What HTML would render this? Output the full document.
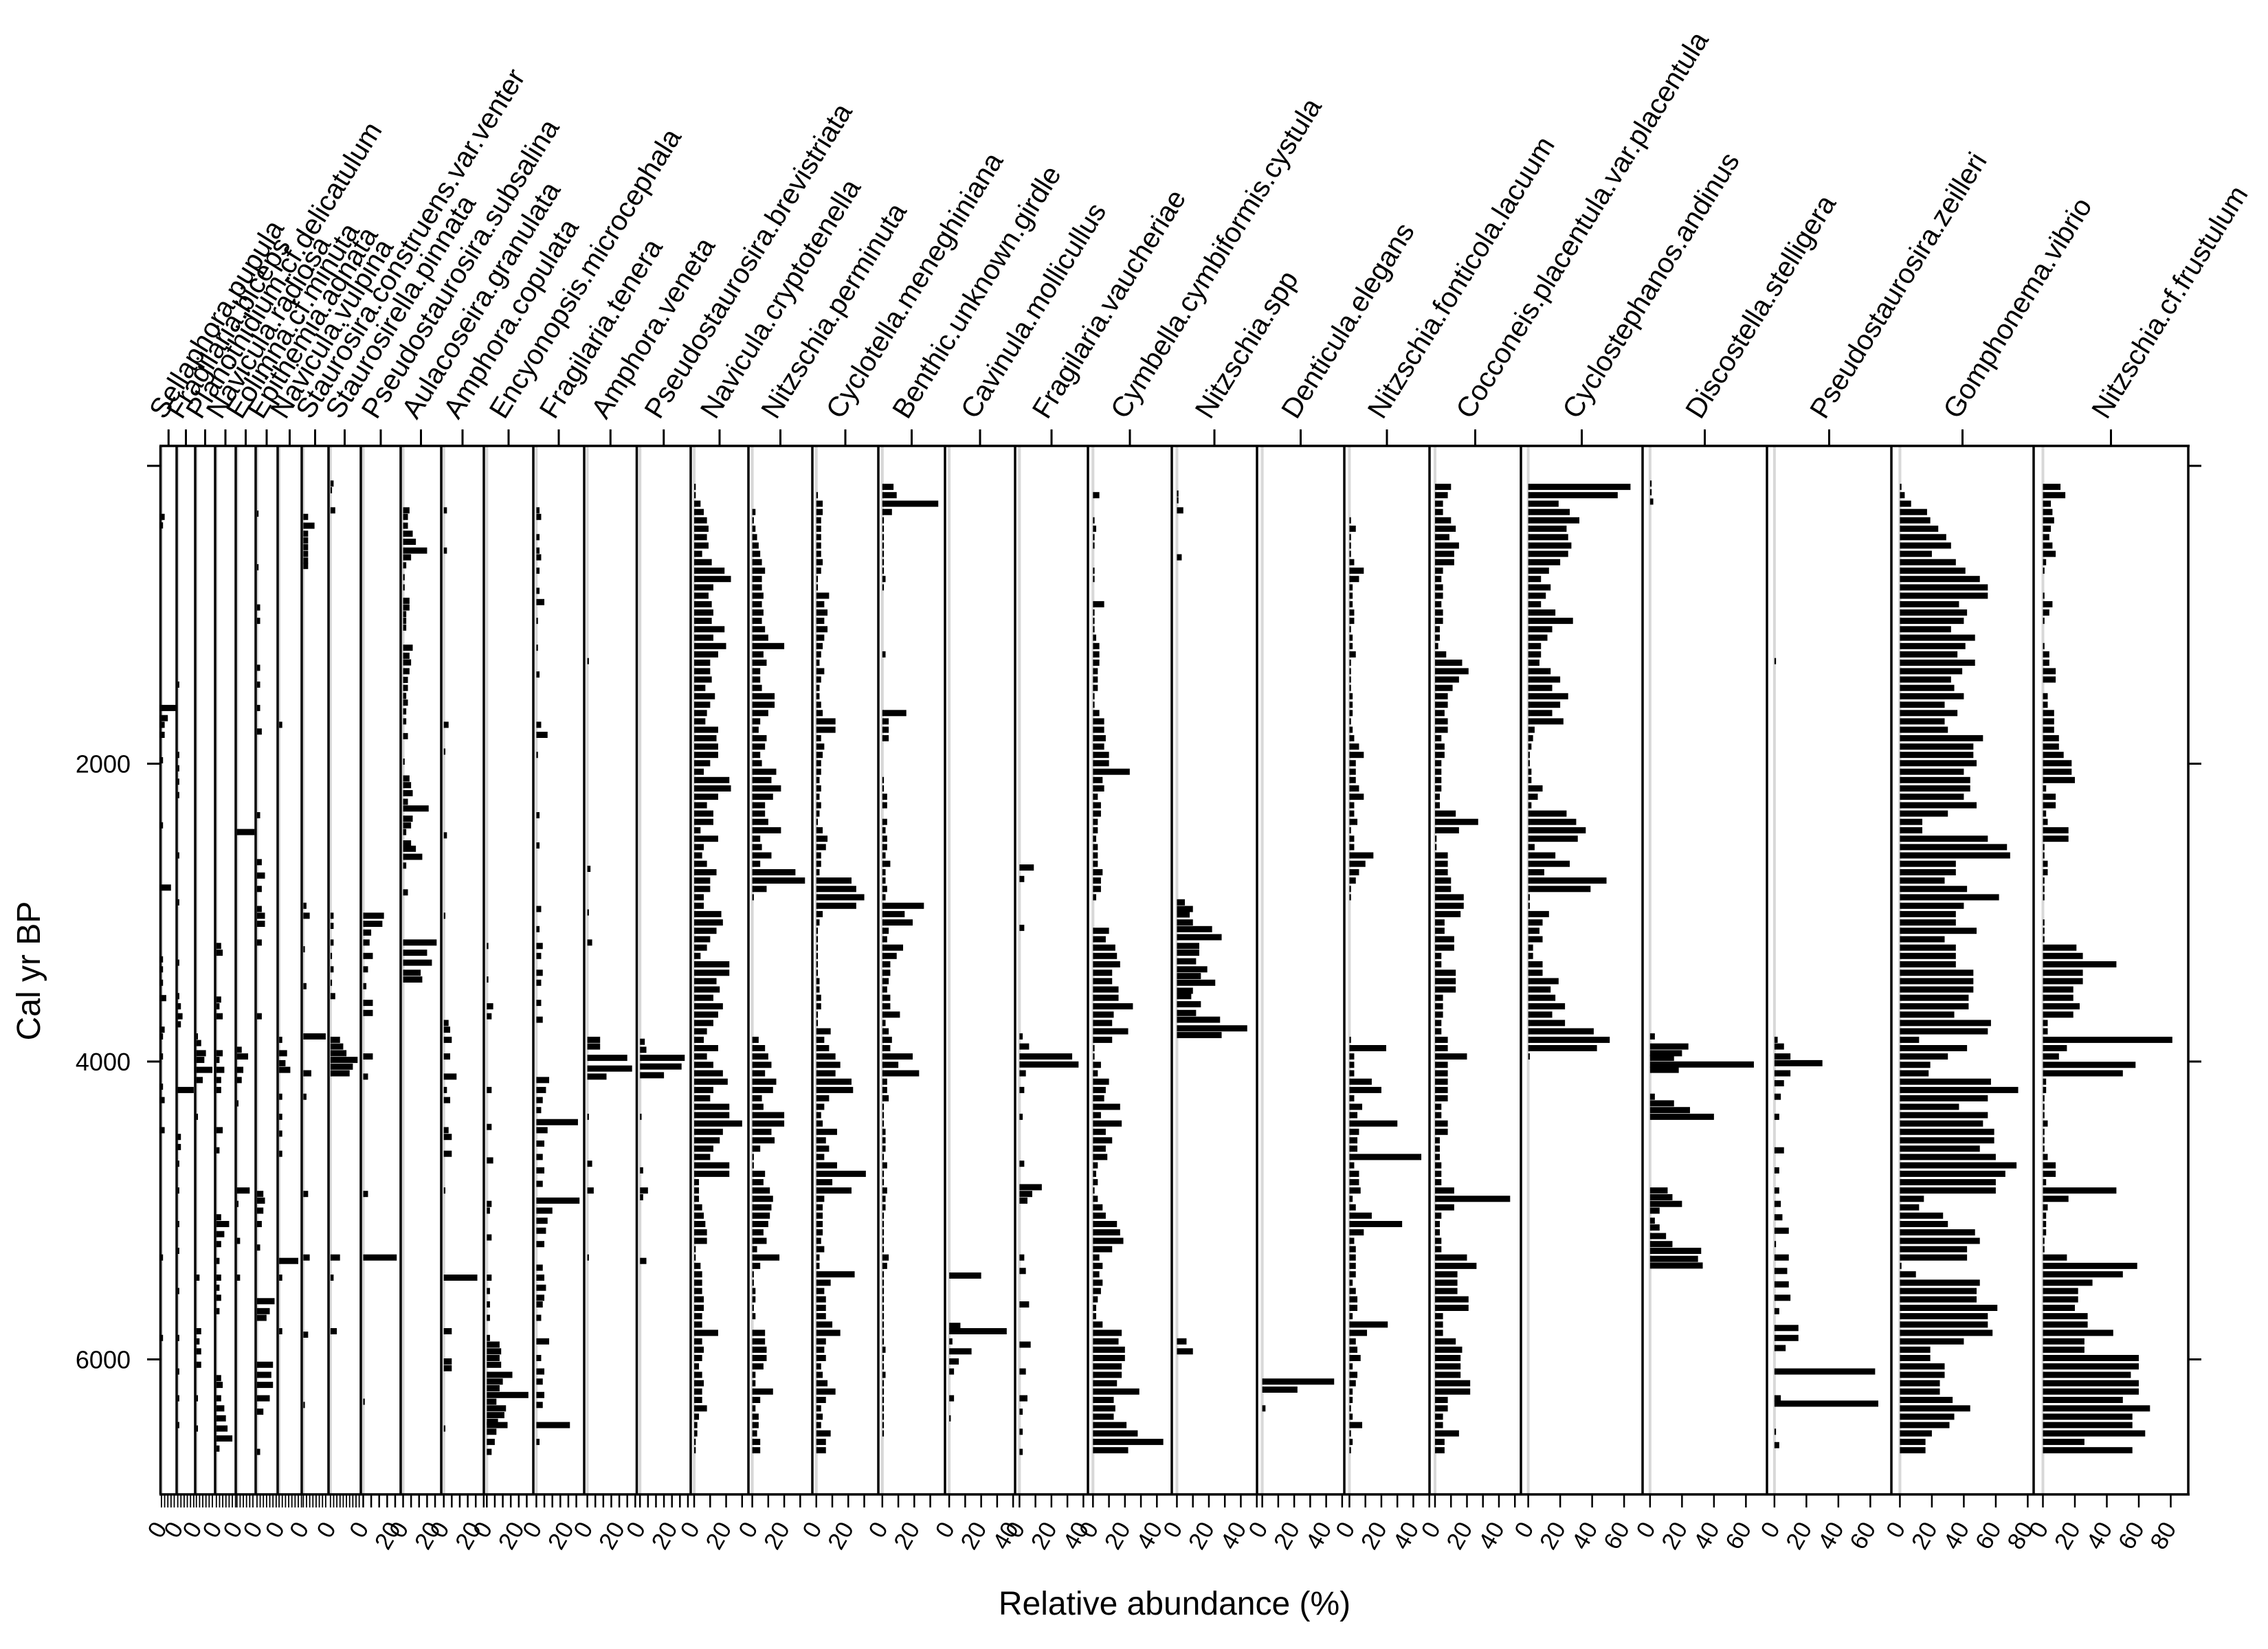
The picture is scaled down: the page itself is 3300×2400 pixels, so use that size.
<!DOCTYPE html>
<html><head><meta charset="utf-8"><style>
html,body{margin:0;padding:0;background:#fff;}
svg{display:block;font-family:"Liberation Sans",Arial,sans-serif;}
</style></head><body>
<svg id="chart" xmlns="http://www.w3.org/2000/svg" width="3300" height="2400" viewBox="0 0 3300 2400">
<rect x="0" y="0" width="3300" height="2400" fill="#fff"/>
<text x="1709" y="2350" font-size="48" text-anchor="middle">Relative abundance (%)</text>
<text transform="translate(58,1413) rotate(-90)" font-size="48" text-anchor="middle">Cal yr BP</text>
<g id="layers"></g>
</svg>
<script>
// ---------- data ----------
const taxa = ["Sellaphora.pupula","Fragilaria.biceps","Planothidium.cf.delicatulum","Navicula.radiosa","Eolimna.cf.minuta","Epithemia.adnata","Navicula.vulpina","Staurosira.construens.var.venter","Staurosirella.pinnata","Pseudostaurosira.subsalina","Aulacoseira.granulata","Amphora.copulata","Encyonopsis.microcephala","Fragilaria.tenera","Amphora.veneta","Pseudostaurosira.brevistriata","Navicula.cryptotenella","Nitzschia.perminuta","Cyclotella.meneghiniana","Benthic.unknown.girdle","Cavinula.mollicullus","Fragilaria.vaucheriae","Cymbella.cymbiformis.cystula","Nitzschia.spp","Denticula.elegans","Nitzschia.fonticola.lacuum","Cocconeis.placentula.var.placentula","Cyclostephanos.andinus","Discostella.stelligera","Pseudostaurosira.zeilleri","Gomphonema.vibrio","Nitzschia.cf.frustulum"];
const ageTicks = [0,2000,4000,6000];
const ageTickLabels = ["","2000","4000","6000"];
const gridAges = [141,197,254,310,366,422,479,535,591,647,704,760,816,872,929,985,1041,1097,1154,1210,1266,1322,1379,1435,1491,1547,1604,1660,1716,1772,1829,1885,1941,1997,2054,2110,2166,2222,2279,2335,2391,2447,2504,2560,2616,2672,2729,2785,2841,2897,2954,3010,3066,3122,3179,3235,3291,3347,3404,3460,3516,3572,3629,3685,3741,3797,3854,3910,3966,4022,4079,4135,4191,4247,4304,4360,4416,4472,4529,4585,4641,4697,4754,4810,4866,4922,4979,5035,5091,5147,5204,5260,5316,5372,5429,5485,5541,5597,5654,5710,5766,5822,5879,5935,5991,6047,6104,6160,6216,6272,6329,6385,6441,6497,6554,6610];

const p_sellaphora = [[343,2],[400,1],[1626,9],[1694,4],[1739,2],[1806,2],[1977,1],[2414,1],[2832,6],[3314,1],[3381,1],[3471,1],[3574,3],[3786,2],[3831,1],[3966,1],[4169,1],[4259,2],[4461,2],[5316,1],[5856,1]];
const p_fragbiceps = [[1469,1],[1941,1],[2031,1],[2121,1],[2211,1],[2616,1],[2931,1],[3336,1],[3561,1],[3629,2],[3696,3],[3750,2],[4191,10],[4506,2],[4574,2],[4686,1],[4866,1],[5091,1],[5271,1],[5541,1],[5856,1],[6081,1],[6261,1],[6441,1]];
const p_planothidium = [[3831,1],[3876,3],[3944,6],[3989,5],[4056,10],[4124,4],[4371,1],[5451,2],[5811,3],[5879,2],[5946,3],[6036,3],[6261,1],[6464,1]];
const p_navradiosa = [[3224,3],[3269,4],[3584,3],[3629,2],[3696,4],[3944,4],[3989,2],[4056,5],[4124,3],[4191,3],[4461,4],[4596,2],[5046,3],[5091,8],[5159,5],[5226,3],[5339,2],[5451,3],[5519,2],[5586,3],[5676,2],[6126,3],[6171,4],[6261,3],[6329,5],[6396,6],[6464,7],[6531,10],[6599,2]];
const p_eolimna = [[2459,11],[3921,3],[3966,7],[4056,4],[4124,3],[4281,1],[4866,8],[4956,1],[5204,2],[5451,2]];
const p_epithemia = [[321,1],[681,1],[951,2],[1041,2],[1356,2],[1469,2],[1626,2],[1784,3],[2346,2],[2661,3],[2751,5],[2841,3],[2976,3],[3021,5],[3075,5],[3201,3],[3696,3],[4889,4],[4934,5],[5001,4],[5091,3],[5249,2],[5609,11],[5676,8],[5721,6],[6036,10],[6104,9],[6171,10],[6261,8],[6351,4],[6621,2]];
const p_navvulpina = [[1739,2],[3854,2],[3944,5],[4011,4],[4056,7],[4236,2],[4371,2],[4484,2],[4619,2],[5339,12],[5451,2],[5811,2]];
const p_staurosira = [[343,3],[402,7],[456,3],[501,3],[546,3],[591,3],[636,3],[672,3],[2954,2],[3021,4],[3246,1],[3494,2],[3831,14],[4079,5],[4236,2],[4889,3],[5316,4],[5834,3],[6306,1]];
const p_staurosirella = [[119,2],[164,1],[299,3],[3021,2],[3089,2],[3201,2],[3291,1],[3381,2],[3471,1],[3561,3],[3854,6],[3899,8],[3944,10],[3989,17],[4034,14],[4079,12],[5316,6],[5451,2],[5811,4]];
const p_pssubsalina = [[3021,13],[3075,12],[3134,5],[3201,4],[3291,6],[3381,3],[3494,2],[3606,6],[3674,6],[3966,6],[4101,3],[4889,3],[5316,21],[6284,1]];
const p_aulacoseira = [[299,4],[343,3],[402,3],[456,6],[510,8],[569,15],[614,5],[668,2],[748,1],[816,1],[906,4],[951,4],[996,2],[1041,2],[1086,2],[1221,6],[1275,4],[1320,5],[1379,4],[1437,3],[1491,3],[1545,2],[1590,3],[1649,2],[1716,2],[1815,3],[1986,1],[2099,4],[2144,5],[2198,6],[2256,3],[2301,16],[2369,6],[2414,5],[2459,2],[2535,5],[2571,8],[2625,12],[2684,2],[2864,3],[3201,21],[3269,15],[3336,18],[3404,11],[3449,12]];
const p_amphcopulata = [[299,2],[569,2],[1739,3],[1919,1],[2481,2],[3021,1],[3741,3],[3786,4],[3854,5],[3966,4],[4101,8],[4191,2],[4259,4],[4461,3],[4506,5],[4619,5],[4866,1],[5451,21],[5811,5],[6014,5],[6059,5],[6464,1]];
const p_encyonopsis = [[3224,1],[3449,1],[3629,4],[3696,3],[4191,3],[4439,3],[4664,4],[4956,3],[5001,2],[5181,3],[5451,3],[5541,2],[5631,2],[5721,2],[5856,2],[5901,8],[5946,9],[5991,8],[6036,9],[6104,16],[6149,10],[6194,8],[6239,26],[6284,6],[6329,12],[6374,11],[6419,7],[6441,13],[6486,6],[6554,5],[6621,3]];
const p_fragtenera = [[299,2],[343,3],[479,2],[569,2],[614,3],[704,2],[839,2],[915,5],[1041,1],[1221,1],[1401,2],[1739,3],[1806,7],[1941,1],[2346,2],[2549,2],[2976,3],[3111,2],[3224,4],[3291,3],[3404,4],[3471,3],[3606,3],[3719,4],[4124,8],[4191,6],[4259,4],[4326,3],[4407,26],[4461,7],[4551,5],[4641,4],[4731,5],[4821,4],[4934,27],[5001,10],[5069,7],[5136,6],[5226,5],[5384,4],[5451,5],[5519,6],[5586,5],[5631,4],[5721,3],[5879,8],[5991,3],[6081,5],[6149,4],[6239,5],[6306,4],[6441,21],[6554,2]];
const p_amphveneta = [[1311,1],[2706,2],[2999,1],[3201,3],[3854,8],[3899,8],[3975,25],[4047,28],[4101,12],[4371,1],[4686,3],[4866,4],[5316,1]];
const p_psbrevistriata = [[3867,3],[3921,4],[3975,28],[4033,26],[4092,15],[4371,1],[4731,2],[4866,5],[4911,2],[5339,4]];
const g_navcrypto = [1,1,4,6,8,9,8,9,5,11, 19,23,12,9,11,12,11,19,12,20, 15,10,10,11,7,13,10,8,7,15, 14,15,15,10,6,22,23,15,8,12, 12,4,15,6,5,8,14,10,10,6, 6,17,18,14,10,8,4,22,22,14, 16,12,18,15,12,8,6,15,8,12, 18,21,12,10,22,22,30,18,16,12, 10,22,22,3,3,3,5,6,7,8, 8,1,1,4,5,5,5,6,6,5, 5,15,5,6,5,3,5,6,5,5, 8,3,2,2,1,1];
const g_nitzperminuta = [0,0,0,2,1,2,3,4,5,6, 8,6,6,7,6,7,6,8,10,20, 7,9,5,5,6,14,14,10,5,4, 9,8,5,6,15,12,18,13,8,8, 10,18,5,6,12,5,27,33,9,1, 0,0,0,0,0,0,0,0,0,0, 0,0,0,0,0,0,4,8,10,12, 8,15,13,6,7,20,20,12,14,5, 1,1,8,7,11,13,12,11,10,7, 9,3,17,5,1,1,2,2,1,2, 0,8,8,9,9,7,2,2,13,5, 2,4,4,3,5,5];
const g_cyclotella = [0,1,4,4,3,3,3,3,3,4, 3,1,1,8,5,7,5,7,5,4, 3,2,5,3,2,2,3,4,12,12, 3,5,4,3,3,2,3,2,3,2, 1,4,7,6,3,3,2,22,25,30, 25,4,2,1,1,1,1,1,1,2, 2,3,3,1,1,9,5,8,12,15, 12,22,23,8,5,3,4,13,6,8, 5,13,31,10,22,5,4,4,4,4, 3,5,2,2,24,9,5,6,6,6, 10,15,6,5,6,3,4,7,12,6, 3,4,3,9,6,6];
const g_benthic = [7,9,35,6,1,1,1,1,1,1, 1,2,1,0,0,0,0,0,0,0, 2,0,0,0,0,0,0,15,4,4, 4,0,0,0,0,1,1,3,3,0, 3,2,3,3,2,5,2,2,3,2, 26,14,19,4,3,13,9,5,5,4, 3,5,5,11,2,4,6,5,19,10, 23,3,3,4,1,1,1,2,2,2, 1,3,1,1,3,2,2,1,1,1, 1,1,4,3,1,1,1,1,1,1, 1,1,1,2,1,1,2,1,1,1, 1,1,1,1,0,0];
const p_cavinula = [[5437,20],[5775,7],[5811,36],[5879,2],[5946,14],[6014,6],[6081,3],[6261,3],[6396,1]];
const p_fragvaucheriae = [[2697,9],[2774,3],[3102,3],[3831,2],[3899,6],[3966,33],[4020,37],[4079,4],[4191,3],[4371,2],[4686,3],[4844,14],[4889,8],[4934,5],[5316,3],[5406,4],[5631,6],[5901,7],[6081,4],[6261,5],[6351,2],[6486,2],[6621,2]];
const g_cymbella = [0,4,0,0,1,2,1,1,0,0, 1,1,0,0,7,1,1,1,2,4, 4,4,3,3,3,1,1,4,7,7, 8,7,10,10,23,6,7,3,5,5, 3,3,2,3,3,3,6,5,5,2, 0,0,0,10,8,14,15,17,12,12, 16,16,25,13,12,22,12,1,1,5, 3,10,8,7,17,5,18,8,12,8, 9,3,2,3,1,3,6,8,15,17, 19,12,4,6,4,6,5,3,2,2, 6,18,16,20,20,18,18,15,29,13, 14,13,21,28,44,22];
const p_nitzspp = [[186,1],[231,1],[299,4],[614,3],[2931,5],[2976,10],[3012,8],[3066,10],[3111,22],[3165,28],[3224,14],[3269,14],[3327,12],[3381,19],[3426,15],[3471,24],[3525,10],[3561,9],[3615,15],[3674,12],[3719,27],[3777,44],[3822,28],[5879,6],[5946,10]];
const p_denticula = [[6149,45],[6203,22],[6329,2]];
const g_nitzfonticola = [0,0,0,0,1,4,1,1,1,3, 9,6,2,2,2,3,3,1,2,2, 4,1,1,1,1,2,2,2,1,2, 3,6,9,4,4,4,6,9,3,3, 5,1,3,3,15,10,6,4,1,1, 0,0,0,0,0,0,0,0,0,0, 0,0,0,0,0,0,1,23,3,3, 3,14,20,3,8,5,30,6,5,5, 45,3,6,6,7,2,4,14,33,9, 3,4,4,4,4,2,4,5,5,2, 24,11,4,5,7,2,5,4,2,2, 1,2,8,1,2,1];
const g_cocconeis = [10,8,5,5,10,13,9,15,12,12, 5,4,5,5,4,5,5,3,3,2, 7,17,21,15,11,8,8,6,8,8, 4,6,6,4,4,4,4,3,3,13, 27,15,1,1,8,8,8,10,10,18, 18,16,6,6,12,12,4,4,13,13, 13,5,5,5,4,4,8,8,20,8, 8,8,8,8,4,4,8,8,3,3, 3,4,4,4,12,47,12,4,3,3, 4,4,20,26,14,14,14,21,21,5, 5,5,13,17,16,16,16,22,22,8, 8,5,5,15,6,6];
const g_cyclostephanos = [64,56,19,26,32,24,25,27,25,20, 13,8,14,11,8,17,28,15,12,8, 8,7,14,20,15,25,20,15,22,4, 3,2,1,1,2,2,9,6,2,24, 30,36,31,4,17,26,10,49,39,1, 1,13,9,7,9,3,3,9,9,19, 14,17,23,15,23,41,51,43,1,0, 0,0,0,0,0,0,0,0,0,0, 0,0,0,0,0,0,0,0,0,0, 0,0,0,0,0,0,0,0,0,0, 0,0,0,0,0,0,0,0,0,0, 0,0,0,0,0,0];
const p_discostella = [[119,1],[177,1],[240,2],[3831,3],[3899,24],[3944,20],[3975,15],[4020,65],[4056,18],[4236,3],[4281,15],[4326,25],[4371,40],[4866,11],[4911,14],[4956,20],[5001,6],[5069,3],[5114,6],[5172,10],[5226,14],[5271,32],[5325,30],[5370,33]];
const p_pszeilleri = [[1311,1],[3854,2],[3899,6],[3966,10],[4011,30],[4079,10],[4146,6],[4236,4],[4371,3],[4596,6],[4731,3],[4866,3],[4956,4],[5046,5],[5136,9],[5226,1],[5316,9],[5406,8],[5496,9],[5586,10],[5676,3],[5789,15],[5856,15],[5924,7],[6081,63],[6261,4],[6297,65],[6486,1],[6576,3]];
const g_gomphonema = [1,3,7,17,19,24,29,32,20,35, 41,50,55,55,37,42,40,32,47,41, 36,47,39,32,34,40,28,36,28,30, 52,46,46,48,40,44,44,40,48,30, 14,14,55,67,69,35,35,28,42,62, 40,35,35,48,28,35,35,35,46,46, 46,43,43,34,57,55,12,42,30,19, 18,57,74,55,37,55,52,59,59,50, 60,73,66,60,60,15,12,27,30,47, 50,42,42,1,10,50,48,48,61,55, 55,58,40,19,19,28,28,25,25,33, 44,34,31,20,16,16];
const g_nitzfrustulum = [11,14,5,6,7,5,4,6,8,2, 1,0,0,1,6,4,1,0,0,1, 4,4,8,8,0,3,3,7,7,7, 10,10,13,18,18,20,2,8,8,2, 3,16,16,1,1,3,3,1,1,1, 0,0,1,1,1,21,25,46,25,25, 19,19,23,19,3,3,81,15,10,58, 50,2,2,1,1,1,3,1,1,1, 3,8,8,2,46,16,3,2,2,2, 1,1,15,59,50,31,22,22,20,28, 28,44,26,26,60,60,55,60,60,50, 67,56,56,64,26,56];

// ---------- layout ----------
const borders = [233.5,257,284,313,343,372,404,439,478,525,583,642,704,776,850,926.5,1005,1089,1182,1278,1375,1477,1583,1705,1829,1956,2080,2213,2390,2571,2752,2959,3184];
const TOP = 649, BOT = 2175, PX_PER_PCT = 2.325;
function yAge(a){ return 678 + a*0.21675; }
function fromGrid(vals){ const out=[]; for(let i=0;i<vals.length && i<gridAges.length;i++){ out.push([gridAges[i], vals[i]]); } return out; }
const series = [p_sellaphora,p_fragbiceps,p_planothidium,p_navradiosa,p_eolimna,p_epithemia,p_navvulpina,p_staurosira,p_staurosirella,p_pssubsalina,p_aulacoseira,p_amphcopulata,p_encyonopsis,p_fragtenera,p_amphveneta,p_psbrevistriata,fromGrid(g_navcrypto),fromGrid(g_nitzperminuta),fromGrid(g_cyclotella),fromGrid(g_benthic),p_cavinula,p_fragvaucheriae,fromGrid(g_cymbella),p_nitzspp,p_denticula,fromGrid(g_nitzfonticola),fromGrid(g_cocconeis),fromGrid(g_cyclostephanos),p_discostella,p_pszeilleri,fromGrid(g_gomphonema),fromGrid(g_nitzfrustulum)];

const NS="http://www.w3.org/2000/svg";
const root=document.getElementById('layers');
function mk(tag, attrs){ const e=document.createElementNS(NS,tag); for(const k in attrs) e.setAttribute(k, attrs[k]); return e; }
function slug(s){ return s.toLowerCase().replace(/[^a-z0-9]+/g,'-').replace(/-+$/,''); }

const grayG = mk('g',{});   root.appendChild(grayG);
const barsG = mk('g',{});   root.appendChild(barsG);
const axG = mk('g',{});   root.appendChild(axG);

for(let p=0;p<taxa.length;p++){
  const L=borders[p], R=borders[p+1], w=R-L;
  const zero = L + 0.06*w;
  const xv = v => zero + v*PX_PER_PCT;
  const zl = mk('line',{x1:zero,x2:zero,y1:TOP,y2:BOT,stroke:'#d8d8d8','stroke-width':4});
  
  
  grayG.appendChild(zl);
  const g = mk('g',{fill:'#000'});
  
  
  barsG.appendChild(g);
  for(const [a,v] of series[p]){
    if(!(v>0)) continue;
    const r = mk('rect',{x:zero, y:(yAge(a)-4.5).toFixed(1), width:Math.max(0.8,xv(v)-zero).toFixed(1), height:9});
    
    
    g.appendChild(r);
  }
  const bl = mk('line',{x1:L,x2:L,y1:TOP,y2:BOT,stroke:'#000','stroke-width':3.5});
  
  
  axG.appendChild(bl);
  const cx=(L+R)/2;
  const tt = mk('line',{x1:cx,x2:cx,y1:625,y2:TOP,stroke:'#000','stroke-width':3});
  
  
  axG.appendChild(tt);
  const lab = mk('text',{transform:`translate(${cx-6},612) rotate(-58)`,'font-size':41});
  lab.textContent = taxa[p];
  
  
  axG.appendChild(lab);
  const maxV = (R - zero)/PX_PER_PCT;
  const step = w<50 ? 2 : (w<80 ? 5 : (w<140 ? 10 : 20));
  for(let t=0;t<=maxV;t+=step){
    const bt = mk('line',{x1:xv(t),x2:xv(t),y1:BOT,y2:BOT+19,stroke:'#000','stroke-width':w<50?1.8:2.5});
    
    
    axG.appendChild(bt);
  }
  for(let t=0;t<=maxV;t+=20){
    const tl = mk('text',{transform:`translate(${xv(t)+9},2224) rotate(-60)`,'font-size':35,'text-anchor':'end'});
    tl.textContent = String(t);
    
    
    axG.appendChild(tl);
  }
}
const rb = mk('line',{x1:3184,x2:3184,y1:TOP,y2:BOT,stroke:'#000','stroke-width':3.5});


axG.appendChild(rb);
const tl = mk('line',{x1:232,x2:3186,y1:TOP,y2:TOP,stroke:'#000','stroke-width':3.5});


axG.appendChild(tl);
const bl = mk('line',{x1:232,x2:3186,y1:BOT,y2:BOT,stroke:'#000','stroke-width':3.5});


axG.appendChild(bl);
for(let i=0;i<ageTicks.length;i++){
  const y=yAge(ageTicks[i]);
  const lt = mk('line',{x1:214,x2:233,y1:y,y2:y,stroke:'#000','stroke-width':3});
  
  
  axG.appendChild(lt);
  const rt = mk('line',{x1:3184,x2:3203,y1:y,y2:y,stroke:'#000','stroke-width':3});
  
  
  axG.appendChild(rt);
  if(ageTickLabels[i]){
    const t = mk('text',{x:190,y:y+13,'font-size':36,'text-anchor':'end'});
    t.textContent = ageTickLabels[i];
    
    
    axG.appendChild(t);
  }
}
</script>
</body></html>
